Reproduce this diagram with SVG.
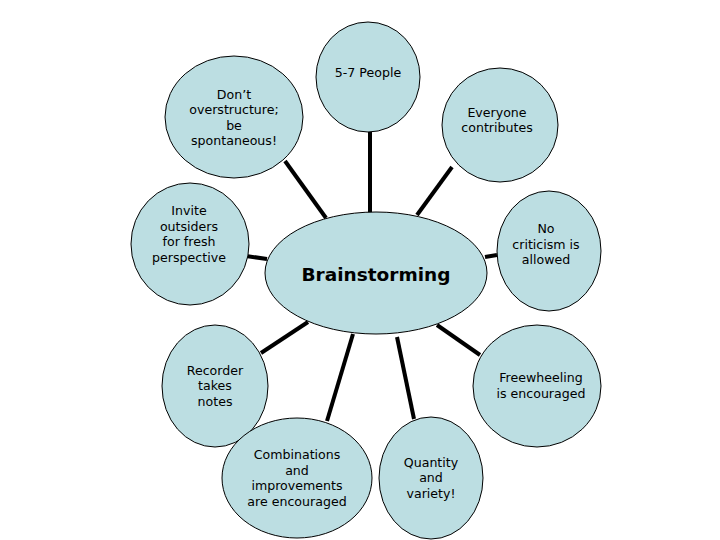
<svg xmlns="http://www.w3.org/2000/svg" width="720" height="540" viewBox="0 0 720 540">
<style>
.n{fill:#bcdee2;stroke:#000;stroke-width:1}
.t{font-family:"DejaVu Sans",Verdana,sans-serif;font-size:12.6px;fill:#000;text-anchor:middle}
.c{stroke:#000;stroke-width:4;fill:none}
.b{font-family:"DejaVu Sans",Verdana,sans-serif;font-size:18.5px;font-weight:bold;fill:#000;text-anchor:middle}
</style>
<rect width="720" height="540" fill="#fff"/>
<g id="connectors">
<line class="c" x1="370" y1="132" x2="370" y2="213"/>
<line class="c" x1="285" y1="161" x2="326" y2="218"/>
<line class="c" x1="452" y1="167" x2="417" y2="215"/>
<line class="c" x1="246" y1="256" x2="267" y2="259"/>
<line class="c" x1="485" y1="257" x2="497" y2="255"/>
<line class="c" x1="261" y1="353" x2="308" y2="322"/>
<line class="c" x1="327" y1="421" x2="353" y2="334"/>
<line class="c" x1="397" y1="337" x2="414" y2="419"/>
<line class="c" x1="437" y1="325" x2="480" y2="355"/>
</g>
<g id="people">
<ellipse class="n" cx="368" cy="77" rx="52" ry="55"/>
<text class="t" x="368" y="77">5-7 People</text>
</g>
<g id="dont">
<ellipse class="n" cx="234" cy="117" rx="69" ry="61"/>
<text class="t" x="234" y="99">Don’t</text>
<text class="t" x="234" y="114">overstructure;</text>
<text class="t" x="234" y="130">be</text>
<text class="t" x="234" y="145">spontaneous!</text>
</g>
<g id="everyone">
<ellipse class="n" cx="500" cy="125" rx="58" ry="57"/>
<text class="t" x="497" y="117">Everyone</text>
<text class="t" x="497" y="132">contributes</text>
</g>
<g id="invite">
<ellipse class="n" cx="190" cy="244" rx="59" ry="61"/>
<text class="t" x="189" y="215">Invite</text>
<text class="t" x="189" y="231">outsiders</text>
<text class="t" x="189" y="246">for fresh</text>
<text class="t" x="189" y="262">perspective</text>
</g>
<g id="nocriticism">
<ellipse class="n" cx="549" cy="251" rx="52" ry="60"/>
<text class="t" x="546" y="233">No</text>
<text class="t" x="546" y="249">criticism is</text>
<text class="t" x="546" y="264">allowed</text>
</g>
<g id="brainstorming">
<ellipse class="n" cx="376" cy="273" rx="111" ry="61"/>
<text class="b" x="376" y="281">Brainstorming</text>
</g>
<g id="recorder">
<ellipse class="n" cx="215" cy="386" rx="53" ry="61"/>
<text class="t" x="215" y="375">Recorder</text>
<text class="t" x="215" y="390">takes</text>
<text class="t" x="215" y="406">notes</text>
</g>
<g id="freewheeling">
<ellipse class="n" cx="537" cy="386" rx="64" ry="61"/>
<text class="t" x="541" y="382">Freewheeling</text>
<text class="t" x="541" y="398">is encouraged</text>
</g>
<g id="combinations">
<ellipse class="n" cx="297" cy="478" rx="75" ry="60"/>
<text class="t" x="297" y="459">Combinations</text>
<text class="t" x="297" y="475">and</text>
<text class="t" x="297" y="490">improvements</text>
<text class="t" x="297" y="506">are encouraged</text>
</g>
<g id="quantity">
<ellipse class="n" cx="431" cy="478" rx="52" ry="61"/>
<text class="t" x="431" y="467">Quantity</text>
<text class="t" x="431" y="482">and</text>
<text class="t" x="431" y="498">variety!</text>
</g>
</svg>
